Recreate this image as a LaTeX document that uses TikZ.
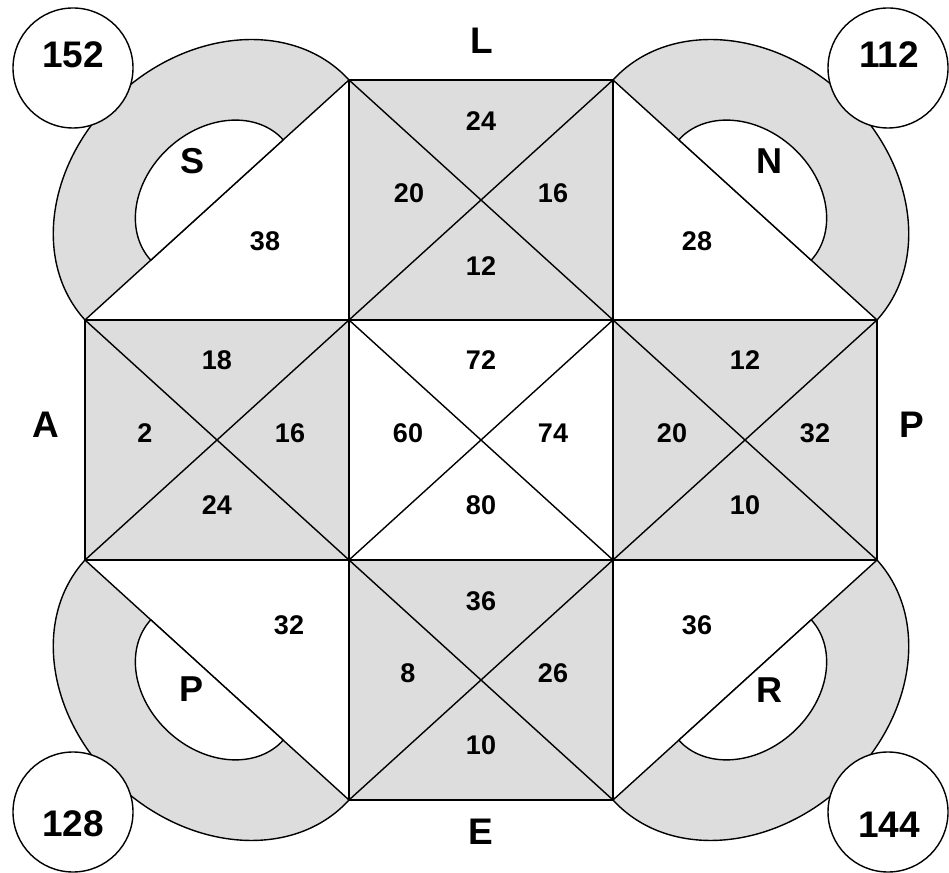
\documentclass[tikz,border=0pt]{standalone}
\usepackage{fontspec}
\setmainfont{Liberation Sans}
\definecolor{ringgray}{RGB}{221,221,221}
\tikzset{
  edge/.style={line width=1.4pt, line join=round},
  graysq/.style={fill=ringgray},
  smallnum/.style={inner sep=0pt, font=\bfseries\fontsize{27}{32}\selectfont},
  biglab/.style={inner sep=0pt, font=\bfseries\fontsize{37}{44}\selectfont},
  cornlab/.style={inner sep=0pt, font=\bfseries\fontsize{36}{43}\selectfont},
  bubble/.style={circle, draw, line width=1.4pt, fill=white, minimum size=120pt, inner sep=0pt},
  outerhalf/.style={edge, fill=ringgray},
  innerhalf/.style={edge, fill=white}
}
\newcommand{\cornerpiece}[2]{%
  \begin{scope}[shift={#1}, rotate=#2]
    \filldraw[outerhalf] (178.39pt,0) arc[start angle=0, end angle=180, x radius=178.39pt, y radius=144pt] -- cycle;
    \filldraw[innerhalf] (89.5pt,0) arc[start angle=0, end angle=180, x radius=89.5pt, y radius=71pt] -- cycle;
  \end{scope}}
\begin{document}
\begin{tikzpicture}[x=1pt, y=1pt]
\useasboundingbox (0,0) rectangle (949,872);
% grid coordinates
\coordinate (a0) at (85,312);  \coordinate (a1) at (85,552);
\coordinate (b0) at (349,72);  \coordinate (b1) at (349,312); \coordinate (b2) at (349,552); \coordinate (b3) at (349,792);
\coordinate (c0) at (613,72);  \coordinate (c1) at (613,312); \coordinate (c2) at (613,552); \coordinate (c3) at (613,792);
\coordinate (d0) at (877,312); \coordinate (d1) at (877,552);
% corner half-ellipses
\cornerpiece{(217,672)}{42.27}
\cornerpiece{(745,672)}{-42.27}
\cornerpiece{(217,192)}{137.73}
\cornerpiece{(745,192)}{222.27}
% gray squares
\fill[graysq] (b2) rectangle (c3);
\fill[graysq] (a0) rectangle (b2);
\fill[graysq] (c1) rectangle (d1);
\fill[graysq] (b0) rectangle (c1);
% edges
\draw[edge] (b3) -- (c3);
\draw[edge] (a1) -- (d1);
\draw[edge] (a0) -- (d0);
\draw[edge] (b0) -- (c0);
\draw[edge] (a0) -- (a1);
\draw[edge] (b0) -- (b3);
\draw[edge] (c0) -- (c3);
\draw[edge] (d0) -- (d1);
% diagonals
\draw[edge] (b2) -- (c3) (b3) -- (c2);
\draw[edge] (a0) -- (b2) (a1) -- (b1);
\draw[edge] (b1) -- (c2) (b2) -- (c1);
\draw[edge] (c1) -- (d1) (c2) -- (d0);
\draw[edge] (b0) -- (c1) (b1) -- (c0);
% corner bubbles
\node[bubble] (q1) at (73,804) {};
\node[bubble] (q2) at (888,804) {};
\node[bubble] (q3) at (73,60) {};
\node[bubble] (q4) at (888,60) {};
\node[biglab] (t152) at (73,817) {152};
\node[biglab] (t112) at (889,817) {112};
\node[biglab] (t128) at (73,48) {128};
\node[biglab] (t144) at (889,47) {144};
% side letters
\node[biglab] (lL) at (482,831) {L};
\node[biglab] (lA) at (46,447) {A};
\node[biglab] (lP) at (912,447) {P};
\node[biglab] (lE) at (481,40) {E};
% corner letters
\node[cornlab] (lS) at (193,711) {S};
\node[cornlab] (lN) at (769,711) {N};
\node[cornlab] (lPc) at (192,183) {P};
\node[cornlab] (lR) at (769,182) {R};
% corner numbers
\node[smallnum] (n38) at (265,631) {38};
\node[smallnum] (n28) at (697,631) {28};
\node[smallnum] (n32c) at (289,247) {32};
\node[smallnum] (n36c) at (697,247) {36};
% top middle
\node[smallnum] (tm1) at (481,751) {24};
\node[smallnum] (tm2) at (409,679) {20};
\node[smallnum] (tm3) at (553,679) {16};
\node[smallnum] (tm4) at (481,606) {12};
% middle left
\node[smallnum] (ml1) at (217,512) {18};
\node[smallnum] (ml2) at (145,439) {2};
\node[smallnum] (ml3) at (290,439) {16};
\node[smallnum] (ml4) at (217,367) {24};
% center
\node[smallnum] (cc1) at (481,512) {72};
\node[smallnum] (cc2) at (408,439) {60};
\node[smallnum] (cc3) at (553,439) {74};
\node[smallnum] (cc4) at (481,367) {80};
% middle right
\node[smallnum] (mr1) at (745,512) {12};
\node[smallnum] (mr2) at (672,439) {20};
\node[smallnum] (mr3) at (815,439) {32};
\node[smallnum] (mr4) at (745,367) {10};
% bottom middle
\node[smallnum] (bm1) at (481,271) {36};
\node[smallnum] (bm2) at (408,199) {8};
\node[smallnum] (bm3) at (553,199) {26};
\node[smallnum] (bm4) at (481,127) {10};
\end{tikzpicture}
\end{document}
